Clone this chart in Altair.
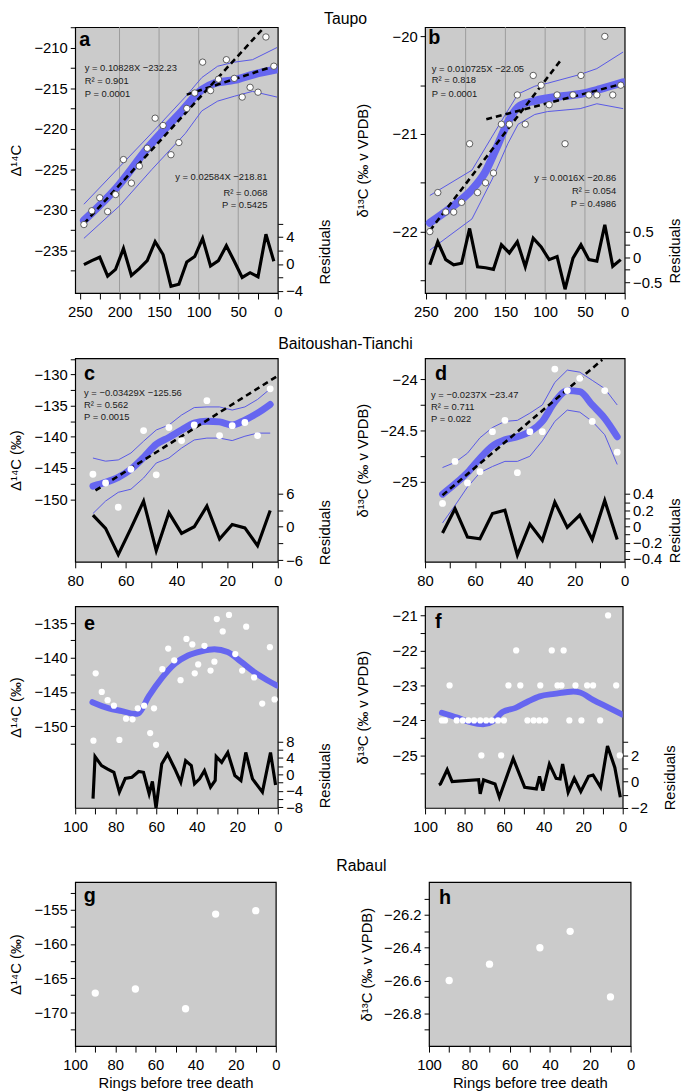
import altair as alt
import pandas as pd

FONT = "Liberation Sans"
PANEL_BG = "#cbcbcb"
FIT_BLUE = "#6666f0"
CI_BLUE = "#5858e6"
GRID = "#9c9c9c"

# ── Taupo (a: Δ14C, b: δ13C) ──────────────────────────────────────
TAUPO_RINGS = [245, 235, 225, 215, 205, 195, 185, 175, 165, 155, 145, 135, 125,
               115, 105, 95, 85, 75, 65, 55, 45, 35, 25, 15, 5]
A_D14C = [-231.8, -230.1, -228.5, -230.2, -228.1, -223.8, -226.7, -224.6, -222.4,
          -218.7, -219.6, -223.2, -221.7, -217.5, -215.6, -211.8, -215.3, -213.9,
          -211.5, -213.8, -216.1, -214.9, -215.5, -208.7, -212.3]
A_RESID = [-0.1, 0.5, 1.0, -1.8, -0.8, 2.3, -1.7, -0.7, 0.5, 3.3, 1.4, -3.3, -3.0,
           0.3, 1.1, 3.8, -0.3, 0.5, 2.7, 0.4, -2.0, -1.3, -1.9, 4.4, 0.4]
A_FIT_X = [245, 204, 163, 121, 96, 80, 55, 30, 1]
A_FIT = [-231.3, -227.3, -222.2, -217.8, -215.2, -214.4, -214.0, -213.3, -212.7]
A_CI_X = [245, 200, 159, 117, 96, 76, 55, 32, 1]
A_UP = [-229.3, -224.7, -220.5, -216.1, -213.7, -212.3, -211.8, -211.5, -210.0]
A_LO = [-233.5, -229.5, -225.0, -220.6, -217.8, -216.6, -216.0, -215.4, -216.1]
A_DASH1 = ([245, 18], [-231.7, -207.6])
A_DASH2 = ([115, 5], [-215.8, -212.3])
A_NOTE_L = ["y = 0.10828X −232.23", "R² = 0.901", "P = 0.0001"]
A_NOTE_R = ["y = 0.02584X −218.81", "R² = 0.068", "P = 0.5425"]

B_D13C = [-22.0, -21.6, -21.8, -21.8, -21.7, -21.1, -21.6, -21.5, -21.4, -20.9,
          -20.9, -20.6, -20.9, -20.4, -20.5, -20.7, -20.6, -21.1, -20.6, -20.4,
          -20.6, -20.6, -20.0, -20.6, -20.5]
B_RESID = [-0.15, 0.3, -0.05, -0.15, -0.12, 0.56, -0.19, -0.21, -0.24, 0.24, 0.08,
           0.3, -0.19, 0.37, 0.2, -0.05, 0.01, -0.63, -0.02, 0.24, -0.05, -0.08,
           0.63, -0.18, -0.05]
B_FIT_X = [245, 221, 192, 176, 159, 147, 132, 113, 76, 56, 31, 2]
B_FIT = [-21.91, -21.77, -21.57, -21.40, -21.10, -20.88, -20.71, -20.66, -20.61,
         -20.59, -20.54, -20.47]
B_CI_X = [245, 192, 167, 147, 134, 113, 97, 56, 35, 2]
B_UP = [-21.63, -21.37, -21.03, -20.76, -20.59, -20.51, -20.48, -20.39, -20.33, -20.16]
B_LO = [-22.19, -21.87, -21.47, -21.10, -20.90, -20.80, -20.77, -20.74, -20.69, -20.74]
B_DASH1 = ([245, 80], [-21.99, -20.24])
B_DASH2 = ([174, 5], [-20.85, -20.49])
B_NOTE_L = ["y = 0.010725X −22.05", "R² = 0.818", "P = 0.0001"]
B_NOTE_R = ["y = 0.0016X −20.86", "R² = 0.054", "P = 0.4986"]

# ── Baitoushan-Tianchi (c, d) ─────────────────────────────────────
BT_RINGS = [73, 68, 63, 58, 53, 48, 43, 38, 33, 28, 23, 18, 13, 8, 3]
C_D14C = [-146.0, -147.4, -151.3, -145.2, -139.0, -146.1, -138.5, -140.6, -138.1,
          -134.2, -139.8, -138.2, -137.7, -139.8, -132.3]
C_RESID = [2.1, -0.3, -5.0, -0.3, 4.6, -4.3, 2.5, -1.2, 0.0, 3.7, -2.2, 0.4, -0.2, -3.4, 2.9]
C_FIT = [-147.9, -147.3, -146.5, -145.2, -143.3, -141.2, -140.1, -138.9, -137.8,
         -137.5, -137.6, -138.1, -137.3, -136.2, -134.8]
C_UP = [-143.4, -143.9, -143.7, -142.6, -140.7, -138.9, -138.1, -136.5, -135.3,
        -135.2, -135.2, -135.7, -135.2, -134.0, -132.3]
C_LO = [-152.3, -150.3, -148.9, -148.4, -146.6, -144.2, -143.4, -141.8, -140.5,
        -140.2, -140.2, -140.6, -139.9, -139.4, -139.4]
C_DASH = ([72, 0], [-148.6, -130.2])
C_NOTE = ["y = −0.03429X −125.56", "R² = 0.562", "P = 0.0015"]

D_D13C = [-25.21, -24.80, -25.01, -24.90, -24.51, -24.40, -24.91, -24.51, -24.51,
          -23.90, -24.11, -23.99, -24.41, -24.11, -24.71]
D_RESID = [-0.08, 0.22, -0.13, -0.15, 0.16, 0.2, -0.35, 0.03, -0.17, 0.3, -0.01,
           0.14, -0.16, 0.32, -0.16]
D_FIT = [-25.12, -25.02, -24.91, -24.77, -24.65, -24.59, -24.56, -24.51, -24.41,
         -24.22, -24.11, -24.12, -24.25, -24.38, -24.56]
D_UP = [-24.86, -24.81, -24.72, -24.57, -24.47, -24.41, -24.40, -24.33, -24.25,
        -24.03, -23.91, -23.93, -24.01, -24.09, -24.25]
D_LO = [-25.40, -25.23, -25.05, -24.91, -24.85, -24.80, -24.80, -24.75, -24.60,
        -24.41, -24.30, -24.32, -24.41, -24.54, -24.83]
D_DASH = ([73, 9], [-25.13, -23.81])
D_NOTE = ["y = −0.0237X −23.47", "R² = 0.711", "P = 0.022"]

# ── e, f (no regression) ──────────────────────────────────────────
E_RINGS = [91.0, 89.9, 86.9, 84.0, 80.9, 78.2, 74.9, 71.7, 69.1, 66.0, 63.0, 61.1,
           60.1, 57.0, 54.1, 51.1, 48.0, 45.1, 42.2, 41.0, 39.3, 36.2, 33.2, 31.3,
           30.1, 27.2, 24.1, 21.0, 17.6, 15.6, 11.7, 7.7, 3.9, 1.6]
E_D14C = [-152.1, -142.3, -145.0, -146.2, -147.0, -152.0, -148.9, -149.0, -147.4,
          -147.0, -151.0, -147.4, -152.7, -141.7, -138.7, -140.4, -143.3, -137.3,
          -138.1, -142.3, -141.0, -138.3, -141.9, -140.6, -134.4, -136.2, -133.8,
          -139.5, -141.9, -135.5, -142.9, -146.7, -138.5, -146.1]
E_FIT_X = [91.5, 83.4, 76.9, 70.4, 68.7, 63.8, 57.3, 50.8, 44.3, 37.8, 31.3, 24.8,
           18.2, 11.7, 5.2, 0.3]
E_FIT = [-146.5, -147.4, -147.8, -148.2, -148.1, -145.7, -143.0, -140.9, -139.7,
         -139.1, -138.8, -139.2, -140.6, -142.1, -143.3, -144.1]
E_RES_X = [91.2, 90.2, 87.0, 84.2, 80.9, 78.2, 75.3, 72.0, 68.7, 66.3, 63.5, 61.9,
           60.1, 57.3, 54.4, 50.8, 47.9, 45.5, 42.7, 41.1, 38.6, 36.2, 33.2, 30.9,
           30.4, 27.7, 24.7, 21.2, 18.2, 15.8, 12.5, 7.6, 3.6, 1.1]
E_RESID = [-5.9, 4.3, 2.1, 1.3, 0.5, -4.3, -1.0, -0.7, 0.7, 0.5, -4.7, -1.7, -8.2,
           2.5, 4.9, 1.3, -1.9, 3.3, 2.1, -2.3, -1.1, 0.9, -3.1, -1.5, 4.3, 2.9,
           5.3, -0.3, -1.5, 5.3, -1.1, -4.3, 5.3, -2.6]

F_RINGS = [91.5, 89.9, 84.0, 80.9, 78.1, 75.2, 72.1, 69.1, 66.2, 63.1, 60.1, 48.2,
           45.1, 42.2, 39.2, 27.0, 20.9, 11.4,
           87.6, 57.8, 51.8, 41.7, 33.0, 31.0, 23.9, 18.0, 15.0, 3.3,
           53.9, 35.9, 29.9,
           7.4,
           71.5, 61.5, 1.5]
F_D13C = [-24.0, -24.0, -24.0, -24.0, -24.0, -24.0, -24.0, -24.0, -24.0, -24.0,
          -24.0, -24.0, -24.0, -24.0, -24.0, -24.0, -24.0, -24.0,
          -23.0, -23.0, -23.0, -23.0, -23.0, -23.0, -23.0, -23.0, -23.0, -23.0,
          -22.0, -22.0, -22.0,
          -21.0,
          -25.0, -25.0, -25.0]
F_FIT_X = [91.5, 83.7, 77.1, 70.6, 65.7, 60.8, 54.2, 47.7, 42.0, 34.6, 24.8, 21.6,
           15.0, 6.9, 0.3]
F_FIT = [-23.78, -23.92, -24.05, -24.11, -24.02, -23.76, -23.64, -23.45, -23.31,
         -23.24, -23.17, -23.20, -23.41, -23.64, -23.83]
F_RES_X = [93.0, 92.2, 88.8, 86.3, 72.9, 72.1, 70.4, 64.6, 62.4, 55.4, 49.6, 43.7,
           42.1, 40.4, 37.1, 33.7, 31.7, 30.4, 27.6, 24.5, 21.2, 17.3, 15.0, 11.2,
           7.7, 4.0, 1.2]
F_RESID = [-0.25, -0.18, 0.9, 0.0, 0.15, -0.93, 0.13, -0.18, -1.18, 1.75, -0.43,
           -0.55, 0.4, -0.68, 1.33, 0.25, 0.2, 1.33, -0.8, 0.25, -0.75, 0.4, 0.5,
           -0.43, 2.7, 1.08, -1.18]

# ── Rabaul (g, h) ─────────────────────────────────────────────────
RABAUL_RINGS = [90, 70, 45, 30, 10]
G_D14C = [-167.2, -166.6, -169.5, -155.6, -155.1]
H_D13C = [-26.6, -26.5, -26.4, -26.3, -26.7]

# ── axis tick lists (all ticks, labelled ticks) ───────────────────
X_TAUPO = ([0, 25, 50, 75, 100, 125, 150, 175, 200, 225, 250], [0, 50, 100, 150, 200, 250])
X_BT = ([0, 10, 20, 30, 40, 50, 60, 70, 80], [0, 20, 40, 60, 80])
X_100 = ([0, 10, 20, 30, 40, 50, 60, 70, 80, 90, 100], [0, 20, 40, 60, 80, 100])
TAUPO_GRID = [200, 150, 100, 50]

D14C = "Δ¹⁴C"
D14C_PM = "Δ¹⁴C (‰)"
D13C = "δ¹³C (‰ v VPDB)"


def tick_axis(values, major, **kw):
    expr = f"indexof({major}, datum.value) >= 0 ? format(datum.value, '') : ''"
    opts = dict(
        values=values, labelExpr=expr, domain=False, grid=False,
        labelOverlap=False, labelFlush=False, tickSize=5, tickColor="black",
        labelColor="black", labelFont=FONT, labelFontSize=15, labelPadding=3,
        titleFont=FONT, titleFontSize=15, titleFontWeight="normal",
        titleColor="black",
    )
    opts.update(kw)
    return alt.Axis(**opts)


def xy_frame(xs, ys, **extra):
    d = {"ring": xs, "val": ys}
    d.update(extra)
    return pd.DataFrame(d)


def panel(p):
    xt, xm = p["xticks"]
    xkw = dict(title=p.get("xtitle"), titlePadding=3, tickSize=6, labelPadding=6)
    if p.get("xext"):
        xkw.update(minExtent=p["xext"])
    X = alt.X("ring:Q", scale=alt.Scale(domain=p["xdom"], reverse=True, nice=False, zero=False),
              axis=tick_axis(xt, xm, **xkw))
    yt, ym = p["yticks"]
    Y = alt.Y("val:Q", scale=alt.Scale(domain=p["ydom"], nice=False, zero=False),
              axis=tick_axis(yt, ym, title=p["ytitle"], minExtent=p["yext"],
                             maxExtent=p["yext"], titlePadding=p["ypad"]))
    layers = []
    if p.get("grid"):
        layers.append(alt.Chart(pd.DataFrame({"ring": p["grid"]}))
                      .mark_rule(color=GRID, strokeWidth=1).encode(x=X))
    for ci in p.get("ci", []):
        layers.append(alt.Chart(xy_frame(*ci)).mark_line(color=CI_BLUE, strokeWidth=1, clip=True)
                      .encode(x=X, y=Y))
    if p.get("fit"):
        layers.append(alt.Chart(xy_frame(*p["fit"]))
                      .mark_line(color=FIT_BLUE, strokeWidth=p.get("fitw", 7), interpolate="monotone",
                                 strokeCap="round", clip=True)
                      .encode(x=X, y=Y))
    for dash in p.get("dashes", []):
        layers.append(alt.Chart(xy_frame(*dash))
                      .mark_line(color="black", strokeWidth=2.6, strokeDash=[6, 4], clip=True)
                      .encode(x=X, y=Y))
    pts = alt.Chart(xy_frame(p["rings"], p["vals"]))
    if p.get("outlined"):
        pts = pts.mark_circle(color="white", stroke="#3a3a3a", strokeWidth=0.8, size=42, opacity=1)
    else:
        pts = pts.mark_circle(color="white", size=p.get("psize", 42), opacity=1)
    layers.append(pts.encode(x=X, y=Y))
    for ring, vals, texts, align in p.get("notes", []):
        layers.append(alt.Chart(xy_frame([ring] * len(vals), vals, txt=texts))
                      .mark_text(align=align, baseline="middle", font=FONT, fontSize=9.5, color="#1a1a1a")
                      .encode(x=X, y=Y, text="txt:N"))
    lx, ly = p["letter_at"]
    layers.append(alt.Chart(xy_frame([lx], [ly], txt=[p["letter"]]))
                  .mark_text(align="left", baseline="middle", font=FONT, fontSize=20,
                             fontWeight="bold", color="black")
                  .encode(x=X, y=Y, text="txt:N"))
    main = alt.layer(*layers)
    if p.get("resid"):
        rx, rv = p["resid"]
        rt, rm = p["rticks"]
        raxis = tick_axis(rt, rm, orient="right", title="Residuals",
                          minExtent=p["rext"], maxExtent=p["rext"], titlePadding=p.get("rpad", 14),
                          titleAngle=270, titleBaseline="top", titleAlign="center",
                          titleY=p["rtitle_y"])
        res = (alt.Chart(pd.DataFrame({"ring": rx, "res": rv}))
               .mark_line(color="black", strokeWidth=3.2, clip=True)
               .encode(x=X, y=alt.Y("res:Q", scale=alt.Scale(domain=p["rdom"], nice=False, zero=False),
                                    axis=raxis)))
        main = alt.layer(main, res).resolve_scale(y="independent")
    return main.properties(width=p["w"], height=p["h"])


LEFT = dict(yext=44, ypad=8, w=205)
RIGHT = dict(yext=46, ypad=9, w=202, rpad=7)

pa = panel(dict(LEFT, letter="a", letter_at=(251, -209.1), h=269,
                xdom=[0, 256], xticks=X_TAUPO, grid=TAUPO_GRID,
                ydom=[-240.24, -207.5], ytitle=D14C,
                yticks=([-237.5, -235, -232.5, -230, -227.5, -225, -222.5, -220, -217.5, -215,
                         -212.5, -210, -207.5], [-235, -230, -225, -220, -215, -210]),
                rings=TAUPO_RINGS, vals=A_D14C, outlined=True, fitw=8,
                fit=(A_FIT_X, A_FIT), ci=[(A_CI_X, A_UP), (A_CI_X, A_LO)],
                dashes=[A_DASH1, A_DASH2],
                notes=[(244, [-212.5, -214.1, -215.7], A_NOTE_L, "left"),
                       (13, [-226.0, -227.9, -229.4], A_NOTE_R, "right")],
                resid=(TAUPO_RINGS, A_RESID), rdom=[-4.32, 35.1], rext=26, rtitle_y=227,
                rticks=([-4, -2, 0, 2, 4, 6], [-4, 0, 4])))

pb = panel(dict(RIGHT, letter="b", letter_at=(247, -20.02), h=269,
                xdom=[0, 251], xticks=X_TAUPO, grid=TAUPO_GRID,
                ydom=[-22.63, -19.906], ytitle=D13C,
                yticks=([-22.5, -22, -21.5, -21, -20.5, -20], [-22, -21, -20]),
                rings=TAUPO_RINGS, vals=B_D13C, outlined=True, fitw=8,
                fit=(B_FIT_X, B_FIT), ci=[(B_CI_X, B_UP), (B_CI_X, B_LO)],
                dashes=[B_DASH1, B_DASH2],
                notes=[(242.5, [-20.33, -20.45, -20.59], B_NOTE_L, "left"),
                       (10.8, [-21.45, -21.58, -21.72], B_NOTE_R, "right")],
                resid=(TAUPO_RINGS, B_RESID), rdom=[-0.705, 4.5], rext=36, rtitle_y=226,
                rticks=([-0.5, -0.25, 0, 0.25, 0.5], [-0.5, 0, 0.5])))

pc = panel(dict(LEFT, letter="c", letter_at=(76.5, -130.0), h=206,
                xdom=[0, 80], xticks=X_BT,
                ydom=[-160.06, -127.4], ytitle=D14C_PM,
                yticks=([-150, -147.5, -145, -142.5, -140, -137.5, -135, -132.5, -130, -127.5],
                        [-150, -145, -140, -135, -130]),
                rings=BT_RINGS, vals=C_D14C, psize=48, fitw=7,
                fit=(BT_RINGS, C_FIT), ci=[(BT_RINGS, C_UP), (BT_RINGS, C_LO)],
                dashes=[C_DASH],
                notes=[(76.5, [-133.0, -134.9, -136.9], C_NOTE, "left")],
                resid=(BT_RINGS, C_RESID), rdom=[-6.3, 30.2], rext=26, rtitle_y=176,
                rticks=([-6, -3, 0, 3, 6], [-6, 0, 6])))

pd_ = panel(dict(RIGHT, letter="d", letter_at=(76, -23.95), h=206,
                 xdom=[0, 80], xticks=X_BT,
                 ydom=[-25.78, -23.795], ytitle=D13C,
                 yticks=([-25, -24.75, -24.5, -24.25, -24], [-25, -24.5, -24]),
                 rings=BT_RINGS, vals=D_D13C, psize=48, fitw=7,
                 fit=(BT_RINGS, D_FIT), ci=[(BT_RINGS, D_UP), (BT_RINGS, D_LO)],
                 dashes=[D_DASH],
                 notes=[(77.6, [-24.15, -24.27, -24.39], D_NOTE, "left")],
                 resid=(BT_RINGS, D_RESID), rdom=[-0.435, 2.07], rext=36, rtitle_y=174,
                 rticks=([-0.4, -0.3, -0.2, -0.1, 0, 0.1, 0.2, 0.3, 0.4], [-0.4, -0.2, 0, 0.2, 0.4])))

pe = panel(dict(LEFT, letter="e", letter_at=(95.6, -135.1), h=204, xext=33,
                xdom=[0, 100], xticks=X_100,
                ydom=[-161.9, -132.55], ytitle=D14C_PM,
                yticks=([-152.5, -150, -147.5, -145, -142.5, -140, -137.5, -135, -132.5],
                        [-150, -145, -140, -135]),
                rings=E_RINGS, vals=E_D14C, psize=40, fitw=6,
                fit=(E_FIT_X, E_FIT),
                resid=(E_RES_X, E_RESID), rdom=[-8.15, 40.7], rext=26, rtitle_y=171,
                rticks=([-8, -6, -4, -2, 0, 2, 4, 6, 8], [-8, -4, 0, 4, 8])))

pf = panel(dict(RIGHT, letter="f", letter_at=(95, -21.19), h=204, w=200, xext=33, rpad=14,
                xdom=[0, 100], xticks=X_100,
                ydom=[-26.5, -20.74], ytitle=D13C,
                yticks=([-25.5, -25, -24.5, -24, -23.5, -23, -22.5, -22, -21.5, -21],
                        [-25, -24, -23, -22, -21]),
                rings=F_RINGS, vals=F_D13C, psize=40, fitw=6,
                fit=(F_FIT_X, F_FIT),
                resid=(F_RES_X, F_RESID), rdom=[-2.0, 13.3], rext=26, rtitle_y=173,
                rticks=([-2, -1, 0, 1, 2, 3], [-2, 0, 2])))

pg = panel(dict(LEFT, letter="g", letter_at=(95.7, -153.0), h=166, w=203,
                xdom=[0, 100], xticks=X_100, xtitle="Rings before tree death",
                ydom=[-175.0, -150.9], ytitle=D14C_PM,
                yticks=([-172.5, -170, -167.5, -165, -162.5, -160, -157.5, -155, -152.5],
                        [-170, -165, -160, -155]),
                rings=RABAUL_RINGS, vals=G_D14C, psize=55))

ph = panel(dict(RIGHT, letter="h", letter_at=(95, -26.1), h=166, w=204,
                xdom=[0, 100], xticks=X_100, xtitle="Rings before tree death",
                ydom=[-27.0, -26.0], ytitle=D13C,
                yticks=([-26.9, -26.8, -26.7, -26.6, -26.5, -26.4, -26.3, -26.2, -26.1],
                        [-26.8, -26.6, -26.4, -26.2]),
                rings=RABAUL_RINGS, vals=H_D13C, psize=55))


def row_title(text, dx=0, offset=-1):
    return alt.TitleParams(text, font=FONT, fontSize=16, fontWeight="normal", color="black",
                           anchor="middle", offset=offset, dx=dx)


row1 = alt.hconcat(pa, pb, spacing=22, title=row_title("Taupo", offset=-7))
row2 = alt.hconcat(pc, pd_, spacing=22, title=row_title("Baitoushan-Tianchi"))
row3 = alt.hconcat(pe, pf, spacing=22)
row4 = alt.hconcat(pg, ph, spacing=79, title=row_title("Rabaul", dx=40, offset=8))

chart = (
    alt.vconcat(row1, row2, row3, row4, spacing=16)
    .properties(padding={"top": -4, "left": 0, "right": 0, "bottom": 0})
    .configure_view(fill=PANEL_BG, stroke="black", strokeWidth=1.2)
)

chart.save("out.html", embed_options={"renderer": "svg", "actions": False})
